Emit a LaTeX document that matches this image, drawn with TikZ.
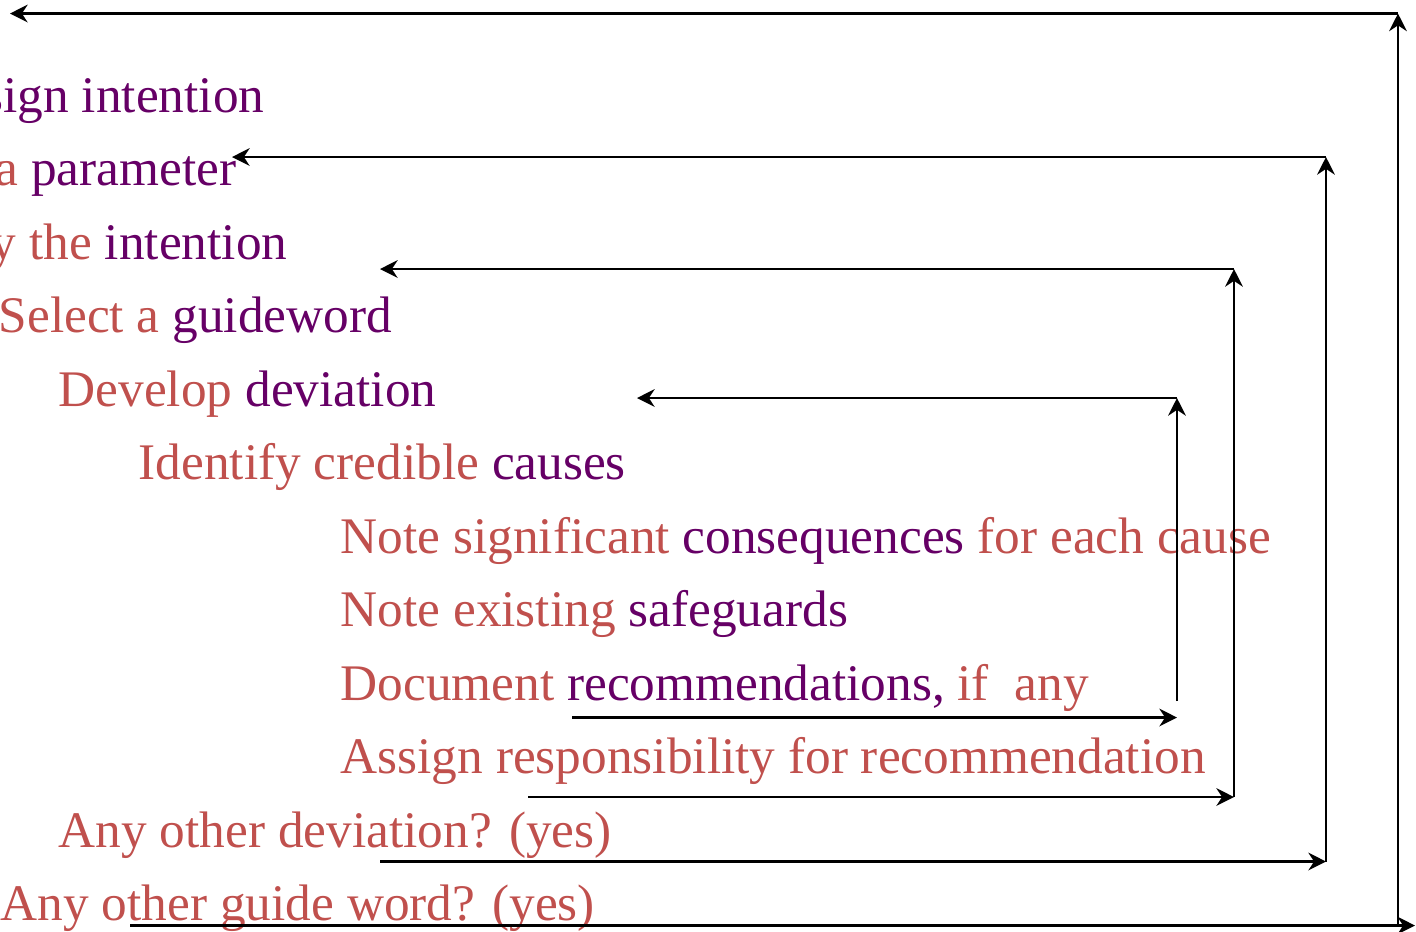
\documentclass[tikz,border=0pt]{standalone}
\usepackage{fontspec}
\setmainfont{Liberation Serif}
\usetikzlibrary{arrows.meta}

\definecolor{hazred}{HTML}{C0504D}
\definecolor{hazpurple}{HTML}{660066}
\newcommand{\pword}[1]{\textcolor{hazpurple}{#1}}

\begin{document}
\begin{tikzpicture}[
  step text/.style={anchor=base west, inner sep=0pt, text=hazred, font=\fontsize{14.6}{17}\selectfont},
  cut text/.style={step text, anchor=base east},
  flow/.style={-{Stealth[length=5pt, width=5pt]}, line width=0.8pt}
]
\useasboundingbox (0,0) rectangle (14.16,-9.31);
\clip (0,0) rectangle (14.16,-9.31);

% steps of the study
\node[cut text] (intent) at (2.65,-1.12) {Define \pword{design intention}};
\node[cut text] (param) at (2.37,-1.855) {Select a \pword{parameter}};
\node[cut text] (apply) at (2.88,-2.59) {Apply the \pword{intention}};
\node[step text] (guide) at (-0.02,-3.325) {Select a \pword{guideword}};
\node[step text] (dev) at (0.58,-4.06) {Develop \pword{deviation}};
\node[step text] (cause) at (1.38,-4.795) {Identify credible \pword{causes}};
\node[step text] (conseq) at (3.40,-5.53) {Note significant \pword{consequences} for each cause};
\node[step text] (safe) at (3.40,-6.265) {Note existing \pword{safeguards}};
\node[step text] (recom) at (3.40,-7.00) {Document \pword{recommendations,} if\ \ any};
\node[step text] (assign) at (3.40,-7.735) {Assign responsibility for recommendation};
\node[step text] (otherdev) at (0.58,-8.47) {Any other deviation? (yes)};
\node[step text] (otherguide) at (0.00,-9.205) {Any other guide word? (yes)};

% return loops
\coordinate (dStart) at (5.72,-7.175);
\coordinate (dEnd) at (11.77,-7.175);
\coordinate (dFoot) at (11.77,-7.01);
\coordinate (dTop) at (11.77,-3.98);
\coordinate (dBack) at (6.37,-3.98);

\coordinate (cStart) at (5.28,-7.97);
\coordinate (cEnd) at (12.34,-7.97);
\coordinate (cTop) at (12.34,-2.69);
\coordinate (cBack) at (3.80,-2.69);

\coordinate (bStart) at (3.80,-8.615);
\coordinate (bEnd) at (13.26,-8.615);
\coordinate (bTop) at (13.26,-1.57);
\coordinate (bBack) at (2.32,-1.57);

\coordinate (aStart) at (1.30,-9.255);
\coordinate (aCorner) at (13.98,-9.255);
\coordinate (aEnd) at (14.15,-9.255);
\coordinate (aTop) at (13.98,-0.135);
\coordinate (aBack) at (0.10,-0.135);

\draw[flow] (dStart) -- (dEnd);
\draw[flow] (dFoot) -- (dTop);
\draw[flow] (dTop) -- (dBack);

\draw[flow] (cStart) -- (cEnd);
\draw[flow] (cEnd) -- (cTop);
\draw[flow] (cTop) -- (cBack);

\draw[flow] (bStart) -- (bEnd);
\draw[flow] (bEnd) -- (bTop);
\draw[flow] (bTop) -- (bBack);

\draw[flow] (aStart) -- (aEnd);
\draw[flow] (aCorner) -- (aTop);
\draw[flow] (aTop) -- (aBack);
\end{tikzpicture}
\end{document}
